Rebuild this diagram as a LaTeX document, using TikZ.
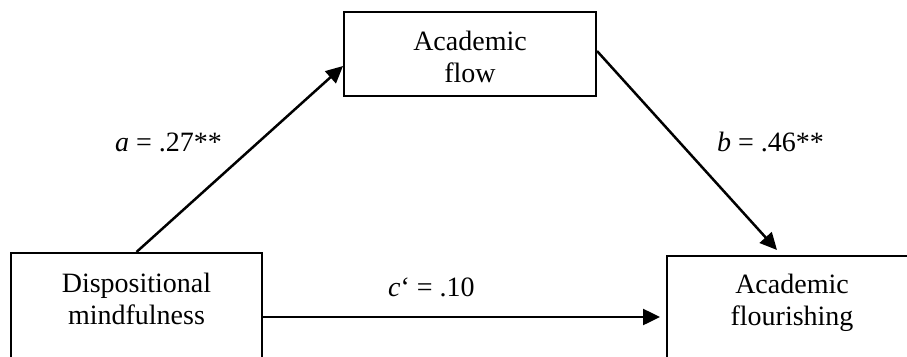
\documentclass[tikz,border=0pt]{standalone}
\usepackage{fontspec}
\setmainfont{Liberation Serif}
\usetikzlibrary{arrows.meta}
\begin{document}
\begin{tikzpicture}[x=1pt,y=-1pt,
  box/.style={draw, line width=2pt, inner sep=0pt},
  txt/.style={font=\fontsize{28}{31.5}\selectfont, align=center, inner sep=0pt, anchor=north},
  lbl/.style={font=\fontsize{28}{34}\selectfont, inner sep=0pt, anchor=base west},
  arr/.style={line width=2.5pt, -{Triangle[length=17pt,width=16pt]}}]
\useasboundingbox (0,0) rectangle (907,356);
\clip (0,0) rectangle (907,356);
% boxes
\node[box, minimum width=252pt, minimum height=84pt] (af) at (470,54) {};
\node[box, minimum width=251pt, minimum height=128pt] (dm) at (136.5,317) {};
\node[box, minimum width=250pt, minimum height=122pt] (fl) at (792,317) {};
% box texts
\node[txt] (aft) at (470,31) {Academic\\flow};
\node[txt] (dmt) at (136.5,273) {Dispositional\\mindfulness};
\node[txt] (flt) at (792,274) {Academic\\flourishing};
% connectors
\draw[arr] (dm.north) -- ([yshift=-12pt]af.west);
\draw[arr] ([yshift=3pt]af.east) -- ([xshift=-15pt,yshift=5pt]fl.north);
\draw[arr] (dm.east) -- ([xshift=-6pt]fl.west);
% labels
\node[lbl] (la) at (115,151) {\textit{a} = .27**};
\node[lbl] (lb) at (717,151) {\textit{b} = .46**};
\node[lbl] (lc) at (388,296) {\textit{c}‘ = .10};
\end{tikzpicture}
\end{document}
